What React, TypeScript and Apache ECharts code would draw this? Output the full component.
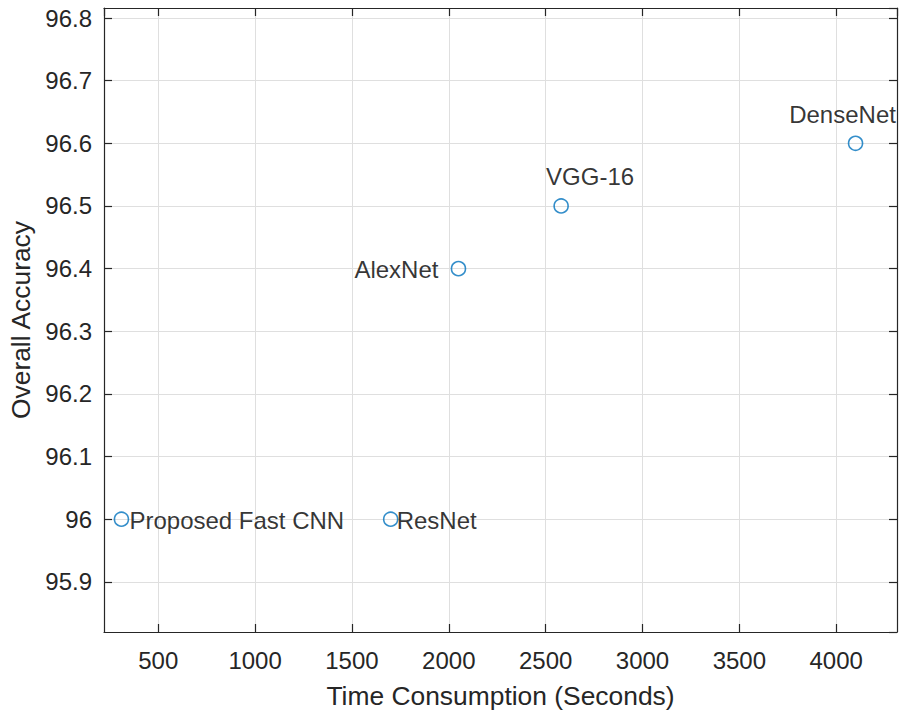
import React, { useEffect, useRef } from "react";
import * as echarts from "echarts";

const modelNames = ["Proposed Fast CNN", "ResNet", "AlexNet", "VGG-16", "DenseNet"];
const timeSeconds = [310, 1700, 2050, 2580, 4100];
const accuracy = [96.0, 96.0, 96.4, 96.5, 96.6];

const labelAlign = ["left", "left", "right", "center", "center"];
const labelOffset: [number, number][] = [
  [8, 1],
  [6, 1],
  [-20, 1],
  [29, -29],
  [-13, -29],
];

const X_MIN = 220;
const X_MAX = 4314;
const Y_MIN = 95.82;
const Y_MAX = 96.816;

const FONT = "'Liberation Sans', Arial, Helvetica, sans-serif";
const AXIS_COLOR = "#262626";

export default function App() {
  const ref = useRef<HTMLDivElement>(null);

  useEffect(() => {
    document.body.style.margin = "0";
    if (!ref.current) return;
    const chart = echarts.init(ref.current, null, { renderer: "svg" });

    const data = modelNames.map((name, i) => ({
      name,
      value: [timeSeconds[i], accuracy[i]],
      label: {
        show: true,
        position: "inside",
        align: labelAlign[i],
        verticalAlign: "middle",
        offset: labelOffset[i],
        formatter: name,
        color: "#000000",
        fontSize: 24,
        fontFamily: FONT,
      },
    }));

    const boxAxisCommon = {
      axisLine: { show: true, lineStyle: { color: AXIS_COLOR, width: 1.2 } },
      axisTick: { show: true, inside: true, length: 8, lineStyle: { color: AXIS_COLOR, width: 1.2 } },
    };

    chart.setOption({
      animation: false,
      backgroundColor: "#ffffff",
      grid: { left: 104, top: 8, right: 4, bottom: 80, containLabel: false },
      xAxis: [
        {
          type: "value",
          min: X_MIN,
          max: X_MAX,
          splitNumber: 8,
          position: "bottom",
          name: "Time Consumption (Seconds)",
          nameLocation: "middle",
          nameGap: 51,
          nameTextStyle: { color: AXIS_COLOR, fontSize: 26.4, fontFamily: FONT },
          ...boxAxisCommon,
          axisLabel: {
            show: true,
            showMinLabel: false,
            showMaxLabel: false,
            color: AXIS_COLOR,
            fontSize: 24,
            fontFamily: FONT,
            margin: 16,
            formatter: (v: number) => String(Math.round(v)),
          },
          splitLine: { show: true, lineStyle: { color: "#dfdfdf", width: 1 } },
        },
        {
          type: "value",
          min: X_MIN,
          max: X_MAX,
          splitNumber: 8,
          position: "top",
          ...boxAxisCommon,
          axisLabel: { show: false },
          splitLine: { show: false },
        },
      ],
      yAxis: [
        {
          type: "value",
          min: Y_MIN,
          max: Y_MAX,
          splitNumber: 10,
          position: "left",
          name: "Overall Accuracy",
          nameLocation: "middle",
          nameGap: 68,
          nameTextStyle: { color: AXIS_COLOR, fontSize: 26.4, fontFamily: FONT },
          ...boxAxisCommon,
          axisLabel: {
            show: true,
            showMinLabel: false,
            showMaxLabel: false,
            color: AXIS_COLOR,
            fontSize: 24,
            fontFamily: FONT,
            margin: 12,
          },
          splitLine: { show: true, lineStyle: { color: "#dfdfdf", width: 1 } },
        },
        {
          type: "value",
          min: Y_MIN,
          max: Y_MAX,
          splitNumber: 10,
          position: "right",
          ...boxAxisCommon,
          axisLabel: { show: false },
          splitLine: { show: false },
        },
      ],
      series: [
        {
          type: "scatter",
          xAxisIndex: 0,
          yAxisIndex: 0,
          symbol: "circle",
          symbolSize: 14,
          itemStyle: { color: "rgba(255,255,255,0)", borderColor: "#0072BD", borderWidth: 1.6 },
          data,
        },
      ],
    });

    return () => chart.dispose();
  }, []);

  return <div ref={ref} style={{ width: 901, height: 714 }} />;
}
